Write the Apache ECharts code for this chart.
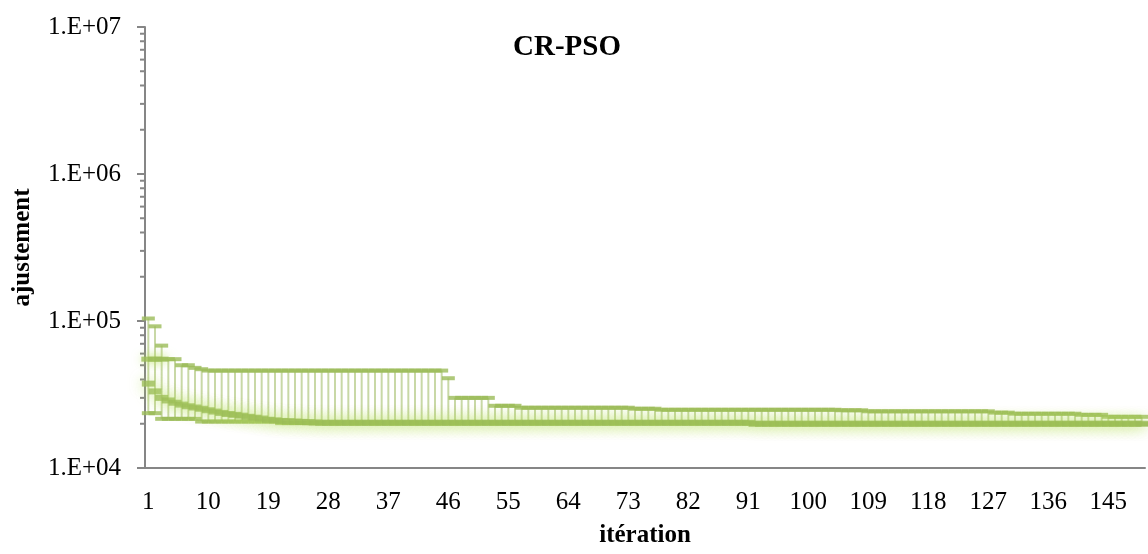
<!DOCTYPE html>
<html lang="fr">
<head>
    <meta charset="UTF-8">
    <title>CR-PSO</title>
    <script src="https://cdn.jsdelivr.net/npm/echarts@6/dist/echarts.min.js"></script>
</head>
<body style="margin: 0; background: #ffffff">
<div id="main" style="width: 1148px; height: 554px"></div>

<script>
    // values (fitness per iteration)
    const maxVals = [
        104000, 92000, 68000, 55000, 55000, 50000, 50000, 48000, 47000, 46000,
        46000, 46000, 46000, 46000, 46000, 46000, 46000, 46000, 46000, 46000,
        46000, 46000, 46000, 46000, 46000, 46000, 46000, 46000, 46000, 46000,
        46000, 46000, 46000, 46000, 46000, 46000, 46000, 46000, 46000, 46000,
        46000, 46000, 46000, 46000, 46000, 40800, 30000, 30000, 30000, 30000,
        30000, 30000, 26500, 26500, 26500, 26500, 25700, 25700, 25700, 25700,
        25700, 25700, 25700, 25700, 25700, 25700, 25700, 25700, 25700, 25700,
        25700, 25700, 25700, 25300, 25300, 25300, 25300, 24900, 24900, 24900,
        24900, 24900, 24900, 24900, 24900, 24900, 24900, 24900, 24900, 24900,
        24900, 24900, 24900, 24900, 24900, 24900, 24900, 24900, 24900, 24900,
        24900, 24900, 24900, 24900, 24700, 24700, 24700, 24700, 24300, 24300,
        24300, 24300, 24300, 24300, 24300, 24300, 24300, 24300, 24300, 24300,
        24300, 24300, 24300, 24300, 24300, 24300, 24300, 23800, 23800, 23800,
        23400, 23400, 23400, 23400, 23400, 23400, 23400, 23400, 23400, 23400,
        23000, 23000, 23000, 23000, 22300, 22300, 22300, 22300, 22300, 22300
    ];
    const meanVals = [
        37500, 33200, 30000, 28800, 27800, 27000, 26300, 25800, 25300, 24700,
        24200, 23700, 23300, 23000, 22700, 22300, 22000, 21700, 21300, 21100,
        20900, 20800, 20700, 20600, 20500, 20400, 20300, 20300, 20300, 20300,
        20300, 20300, 20300, 20300, 20300, 20300, 20300, 20300, 20300, 20300,
        20300, 20300, 20300, 20300, 20300, 20300, 20300, 20300, 20300, 20300,
        20300, 20300, 20300, 20300, 20300, 20300, 20300, 20300, 20300, 20300,
        20300, 20300, 20300, 20300, 20300, 20300, 20300, 20300, 20300, 20300,
        20300, 20300, 20300, 20300, 20300, 20300, 20300, 20300, 20300, 20300,
        20300, 20300, 20300, 20300, 20300, 20300, 20300, 20300, 20300, 20300,
        20300, 20000, 20000, 20000, 20000, 20000, 20000, 20000, 20000, 20000,
        20000, 20000, 20000, 20000, 20000, 20000, 20000, 20000, 20000, 20000,
        20000, 20000, 20000, 20000, 20000, 20000, 20000, 20000, 20000, 20000,
        20000, 20000, 20000, 20000, 20000, 20000, 20000, 20000, 20000, 20000,
        20000, 20000, 20000, 20000, 20000, 20000, 20000, 20000, 20000, 20000,
        20000, 20000, 20000, 20000, 20000, 20000, 20000, 20000, 20000, 20000
    ];
    const minVals = [
        23600, 23600, 21600, 21600, 21600, 21600, 21600, 21600, 20700, 20700,
        20700, 20700, 20700, 20700, 20700, 20700, 20700, 20700, 20700, 20700,
        20200, 20200, 20200, 20200, 20200, 20200, 20200, 20200, 20200, 20200,
        20200, 20200, 20200, 20200, 20200, 20200, 20200, 20200, 20200, 20200,
        20200, 20200, 20200, 20200, 20200, 20200, 20200, 20200, 20200, 20200,
        20200, 20200, 20200, 20200, 20200, 20200, 20200, 20200, 20200, 20200,
        20200, 20200, 20200, 20200, 20200, 20200, 20200, 20200, 20200, 20200,
        20200, 20200, 20200, 20200, 20200, 20200, 20200, 20200, 20200, 20200,
        20200, 20200, 20200, 20200, 20200, 20200, 20200, 20200, 20200, 20200,
        20200, 19900, 19900, 19900, 19900, 19900, 19900, 19900, 19900, 19900,
        19900, 19900, 19900, 19900, 19900, 19900, 19900, 19900, 19900, 19900,
        19900, 19900, 19900, 19900, 19900, 19900, 19900, 19900, 19900, 19900,
        19900, 19900, 19900, 19900, 19900, 19900, 19900, 19900, 19900, 19900,
        19900, 19900, 19900, 19900, 19900, 19900, 19900, 19900, 19900, 19900,
        19900, 19900, 19900, 19900, 19900, 19900, 19900, 19900, 19900, 19900
    ];
    // the extra fat dash seen only on the first iterations
    const startVals = [55000, 55000, 55000];

    const iterations = maxVals.map((v, i) => String(i + 1));
    const minorTickVals = [
        20000, 30000, 40000, 50000, 60000, 70000, 80000, 90000,
        200000, 300000, 400000, 500000, 600000, 700000, 800000, 900000,
        2000000, 3000000, 4000000, 5000000, 6000000, 7000000, 8000000, 9000000
    ];

    const green = '#9bbb59';
    const axisGrey = '#868686';
    const serif = 'Liberation Serif';

    const chart = echarts.init(document.getElementById('main'));

    const option = {
        animation: false,
        title: {
            text: 'CR-PSO',
            left: 508,
            top: 28,
            textStyle: {fontFamily: serif, fontSize: 29, fontWeight: 'bold', color: '#000'}
        },
        grid: {left: 145, right: 3, top: 27, bottom: 86},
        xAxis: {
            type: 'category',
            data: iterations,
            boundaryGap: true,
            name: 'itération',
            nameLocation: 'middle',
            nameGap: 55,
            nameTextStyle: {fontFamily: serif, fontSize: 25, fontWeight: 'bold', color: '#000'},
            axisLine: {lineStyle: {color: axisGrey, width: 2}},
            axisTick: {interval: 8, length: 8, lineStyle: {color: axisGrey, width: 2}},
            axisLabel: {interval: 8, margin: 22, fontFamily: serif, fontSize: 25, color: '#000'},
            splitLine: {show: false}
        },
        yAxis: {
            type: 'log',
            logBase: 10,
            min: 10000,
            max: 10000000,
            interval: 1,
            name: 'ajustement',
            nameLocation: 'middle',
            nameGap: 110,
            nameTextStyle: {fontFamily: serif, fontSize: 25, fontWeight: 'bold', color: '#000'},
            axisLine: {show: true, lineStyle: {color: axisGrey, width: 2}},
            axisTick: {show: true, length: 8, lineStyle: {color: axisGrey, width: 2}},
            axisLabel: {
                margin: 24,
                fontFamily: serif,
                fontSize: 25,
                color: '#000',
                formatter: function (v) {
                    const e = Math.round(Math.log10(v));
                    return '1.E+' + String(e).padStart(2, '0');
                }
            },
            splitLine: {show: false}
        },
        series: [
            {
                // high-low lines
                type: 'custom',
                z: 1,
                data: iterations.map((c, i) => [i, minVals[i], maxVals[i]]),
                renderItem: function (params, api) {
                    const lo = api.coord([api.value(0), api.value(1)]);
                    const hi = api.coord([api.value(0), api.value(2)]);
                    return {
                        type: 'line',
                        shape: {x1: lo[0], y1: lo[1], x2: hi[0], y2: hi[1]},
                        style: {stroke: '#c8d8a6', lineWidth: 2}
                    };
                }
            },
            {
                // minor ticks of the log axis
                type: 'custom',
                z: 3,
                clip: false,
                silent: true,
                data: minorTickVals.map(v => [0, v]),
                renderItem: function (params, api) {
                    const p = api.coord([0, api.value(1)]);
                    const x0 = params.coordSys.x;
                    return {
                        type: 'line',
                        shape: {x1: x0 - 5, y1: p[1], x2: x0, y2: p[1]},
                        style: {stroke: axisGrey, lineWidth: 2}
                    };
                }
            },
            {
                name: 'max',
                type: 'scatter',
                z: 4,
                symbol: 'rect',
                symbolSize: [13, 4],
                itemStyle: {color: green},
                data: maxVals
            },
            {
                name: 'start',
                type: 'scatter',
                z: 4,
                symbol: 'rect',
                symbolSize: [14, 5],
                itemStyle: {color: green, shadowBlur: 10, shadowColor: 'rgba(185,225,95,0.8)'},
                data: startVals
            },
            {
                name: 'min',
                type: 'scatter',
                z: 4,
                symbol: 'rect',
                symbolSize: [13, 4],
                itemStyle: {color: green},
                data: minVals
            },
            {
                name: 'mean',
                type: 'scatter',
                z: 5,
                symbol: 'rect',
                symbolSize: [13, 6],
                itemStyle: {color: green, shadowBlur: 14, shadowColor: 'rgba(185,225,95,0.9)'},
                data: meanVals
            }
        ]
    };

    chart.setOption(option);
</script>
</body>
</html>
